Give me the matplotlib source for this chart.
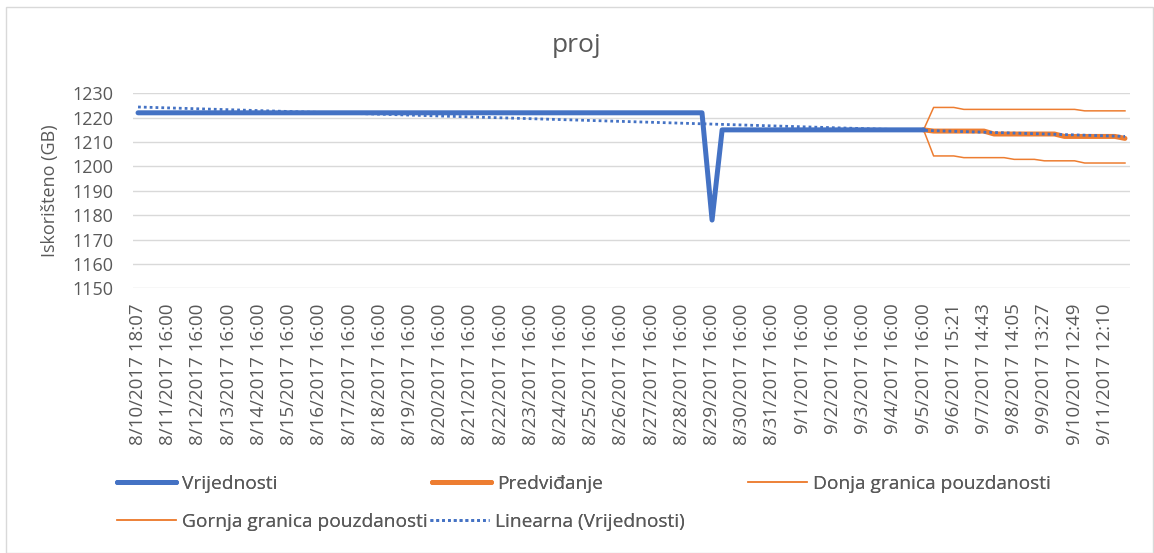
import matplotlib
matplotlib.use("Agg")
import matplotlib.pyplot as plt
from matplotlib.patches import Rectangle
import numpy as np

plt.rcParams['font.family'] = ['Open Sans', 'DejaVu Sans']

# ---- data ----
tick_labels = [
    "8/10/2017 18:07", "8/11/2017 16:00", "8/12/2017 16:00", "8/13/2017 16:00",
    "8/14/2017 16:00", "8/15/2017 16:00", "8/16/2017 16:00", "8/17/2017 16:00",
    "8/18/2017 16:00", "8/19/2017 16:00", "8/20/2017 16:00", "8/21/2017 16:00",
    "8/22/2017 16:00", "8/23/2017 16:00", "8/24/2017 16:00", "8/25/2017 16:00",
    "8/26/2017 16:00", "8/27/2017 16:00", "8/28/2017 16:00", "8/29/2017 16:00",
    "8/30/2017 16:00", "8/31/2017 16:00", "9/1/2017 16:00", "9/2/2017 16:00",
    "9/3/2017 16:00", "9/4/2017 16:00", "9/5/2017 16:00", "9/6/2017 15:21",
    "9/7/2017 14:43", "9/8/2017 14:05", "9/9/2017 13:27", "9/10/2017 12:49",
    "9/11/2017 12:10",
]
n_points = 99          # number of categories on the axis (labels shown every 3rd)
label_step = 3

vrijednosti = [
    1222, 1222, 1222, 1222, 1222, 1222, 1222, 1222, 1222, 1222,
    1222, 1222, 1222, 1222, 1222, 1222, 1222, 1222, 1222, 1222,
    1222, 1222, 1222, 1222, 1222, 1222, 1222, 1222, 1222, 1222,
    1222, 1222, 1222, 1222, 1222, 1222, 1222, 1222, 1222, 1222,
    1222, 1222, 1222, 1222, 1222, 1222, 1222, 1222, 1222, 1222,
    1222, 1222, 1222, 1222, 1222, 1222, 1222, 1178, 1215, 1215,
    1215, 1215, 1215, 1215, 1215, 1215, 1215, 1215, 1215, 1215,
    1215, 1215, 1215, 1215, 1215, 1215, 1215, 1215, 1215,
]
forecast_start = 78
predvidjanje = [
    1215, 1214.5, 1214.5, 1214.5, 1214.5, 1214.5, 1214.5, 1213.3, 1213.3, 1213.3,
    1213.3, 1213.3, 1213.3, 1213.3, 1212.3, 1212.3, 1212.3, 1212.3, 1212.3, 1212.3,
    1211.5,
]
donja = [
    1215, 1204.3, 1204.3, 1204.3, 1203.6, 1203.6, 1203.6, 1203.6, 1203.6, 1202.9,
    1202.9, 1202.9, 1202.3, 1202.3, 1202.3, 1202.3, 1201.4, 1201.4, 1201.4, 1201.4,
    1201.4,
]
gornja = [
    1215, 1224.2, 1224.2, 1224.2, 1223.4, 1223.4, 1223.4, 1223.4, 1223.4, 1223.4,
    1223.4, 1223.4, 1223.4, 1223.4, 1223.4, 1223.4, 1222.8, 1222.8, 1222.8, 1222.8,
    1222.8,
]
y_ticks = [1150, 1160, 1170, 1180, 1190, 1200, 1210, 1220, 1230]

# ---- style ----
BLUE = "#4472C4"
ORANGE = "#ED7D31"
GRAY_TXT = "#595959"
GRID = "#D9D9D9"

W, H = 1154, 553
fig = plt.figure(figsize=(W / 100, H / 100), dpi=100)
fig.patch.set_facecolor("white")

left, right, top, bottom = 133, 1130, 93.3, 288.3
ax = fig.add_axes([left / W, 1 - bottom / H, (right - left) / W, (bottom - top) / H])

x_val = np.arange(len(vrijednosti))
x_fc = np.arange(forecast_start, forecast_start + len(predvidjanje))

ln_v, = ax.plot(x_val, vrijednosti, color=BLUE, lw=3.6, solid_joinstyle="round",
                solid_capstyle="round", zorder=4)
ln_p, = ax.plot(x_fc, predvidjanje, color=ORANGE, lw=3.6, solid_joinstyle="round",
                solid_capstyle="round", zorder=3)
ln_d, = ax.plot(x_fc, donja, color=ORANGE, lw=1.1, zorder=3)
ln_g, = ax.plot(x_fc, gornja, color=ORANGE, lw=1.1, zorder=3)

# linear trendline of Vrijednosti (as Excel computes it)
coef = np.polyfit(x_val, np.array(vrijednosti, dtype=float), 1)
x_tr = np.array([0, n_points - 1])
ln_t, = ax.plot(x_tr, np.polyval(coef, x_tr), color=BLUE, lw=2.0,
                linestyle=(0, (1, 1.1)), zorder=5)

ax.set_xlim(-0.5, n_points - 0.5)
ax.set_ylim(1150, 1230)
ax.set_yticks(y_ticks)
ax.set_xticks(np.arange(0, n_points, label_step)[:len(tick_labels)])
ax.set_xticklabels(tick_labels, rotation=90)
ax.tick_params(axis="x", length=0, pad=11, labelsize=13.5, labelcolor=GRAY_TXT)
ax.tick_params(axis="y", length=0, pad=14, labelsize=13, labelcolor=GRAY_TXT)
ax.grid(axis="y", color=GRID, lw=1.0)
ax.set_axisbelow(True)
for s in ax.spines.values():
    s.set_visible(False)

fig.text(50 / W, 1 - 191 / H, "Iskorišteno (GB)", rotation=90, ha="center",
         va="center", fontsize=13, color=GRAY_TXT)
fig.text(577 / W, 1 - 45 / H, "proj", ha="center", va="center", fontsize=19,
         color=GRAY_TXT)

# chart border
fig.add_artist(Rectangle((6 / W, 0), (1153 - 6) / W, 1 - 7 / H,
                         transform=fig.transFigure, fill=False,
                         edgecolor=GRID, lw=1.0))

# legend entries placed like Excel's flow layout
entries = [
    (ln_v, "Vrijednosti", 117, 484),
    (ln_p, "Predviđanje", 432, 484),
    (ln_d, "Donja granica pouzdanosti", 748, 484),
    (ln_g, "Gornja granica pouzdanosti", 117, 522),
    (ln_t, "Linearna (Vrijednosti)", 430, 522),
]
for h, lab, px, py in entries:
    lg = fig.legend([h], [lab], loc="center left",
                    bbox_to_anchor=(px / W, 1 - py / H), frameon=False,
                    borderpad=0, borderaxespad=0, handlelength=3.1,
                    handletextpad=0.3, fontsize=13.8, labelcolor=GRAY_TXT)
    fig.add_artist(lg)

fig.savefig("out.png", dpi=100)
